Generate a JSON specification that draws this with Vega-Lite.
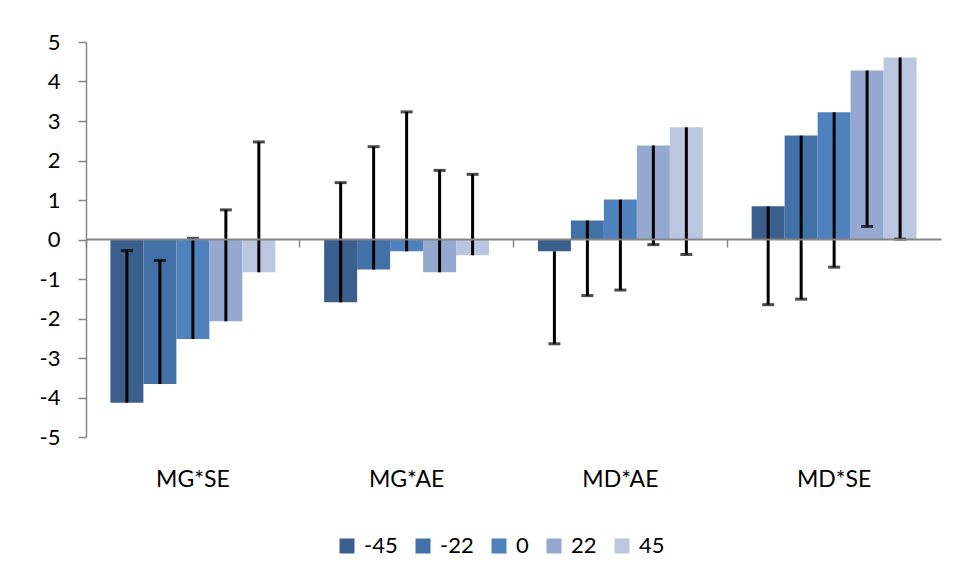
{
  "$schema": "https://vega.github.io/schema/vega-lite/v6.json",
  "width": 855,
  "height": 395,
  "autosize": {"type": "none"},
  "padding": {"left": 86, "top": 42, "right": 16, "bottom": 142},
  "background": "white",
  "config": {
    "font": "Lato",
    "view": {"stroke": null},
    "axis": {"labelFont": "Lato", "labelColor": "black", "titleFont": "Lato"},
    "legend": {"labelFont": "Lato"}
  },
  "data": {
    "values": [
      {"cat": "MG*SE", "series": "-45", "value": -4.13, "err": -0.28},
      {"cat": "MG*SE", "series": "-22", "value": -3.66, "err": -0.53},
      {"cat": "MG*SE", "series": "0", "value": -2.52, "err": 0.03},
      {"cat": "MG*SE", "series": "22", "value": -2.07, "err": 0.75},
      {"cat": "MG*SE", "series": "45", "value": -0.83, "err": 2.47},
      {"cat": "MG*AE", "series": "-45", "value": -1.59, "err": 1.44},
      {"cat": "MG*AE", "series": "-22", "value": -0.76, "err": 2.35},
      {"cat": "MG*AE", "series": "0", "value": -0.3, "err": 3.23},
      {"cat": "MG*AE", "series": "22", "value": -0.83, "err": 1.75},
      {"cat": "MG*AE", "series": "45", "value": -0.4, "err": 1.65},
      {"cat": "MD*AE", "series": "-45", "value": -0.3, "err": -2.64},
      {"cat": "MD*AE", "series": "-22", "value": 0.48, "err": -1.42},
      {"cat": "MD*AE", "series": "0", "value": 1.01, "err": -1.28},
      {"cat": "MD*AE", "series": "22", "value": 2.38, "err": -0.13},
      {"cat": "MD*AE", "series": "45", "value": 2.84, "err": -0.38},
      {"cat": "MD*SE", "series": "-45", "value": 0.84, "err": -1.65},
      {"cat": "MD*SE", "series": "-22", "value": 2.63, "err": -1.51},
      {"cat": "MD*SE", "series": "0", "value": 3.22, "err": -0.7},
      {"cat": "MD*SE", "series": "22", "value": 4.28, "err": 0.33},
      {"cat": "MD*SE", "series": "45", "value": 4.61, "err": 0.01}
    ]
  },
  "encoding": {
    "x": {
      "field": "cat",
      "type": "nominal",
      "sort": ["MG*SE", "MG*AE", "MD*AE", "MD*SE"],
      "scale": {"paddingInner": 0, "paddingOuter": 0}
    },
    "xOffset": {
      "field": "series",
      "type": "nominal",
      "sort": ["-45", "-22", "0", "22", "45"],
      "scale": {"paddingInner": 0, "paddingOuter": 0.74}
    }
  },
  "layer": [
    {
      "mark": {"type": "bar", "cornerRadius": 0},
      "encoding": {
        "x": {
          "field": "cat",
          "type": "nominal",
          "sort": ["MG*SE", "MG*AE", "MD*AE", "MD*SE"],
          "axis": {
            "title": null,
            "orient": "bottom",
            "domain": false,
            "ticks": false,
            "labelAngle": 0,
            "labelFontSize": 23,
            "labelPadding": 31
          }
        },
        "y": {
          "field": "value",
          "type": "quantitative",
          "scale": {"domain": [-5, 5], "nice": false},
          "axis": {
            "title": null,
            "values": [-5, -4, -3, -2, -1, 0, 1, 2, 3, 4, 5],
            "labelExpr": "'' + datum.value",
            "labelOverlap": false,
            "grid": false,
            "domainColor": "#868686",
            "domainWidth": 1.5,
            "tickColor": "#868686",
            "tickWidth": 1.5,
            "tickSize": 8,
            "labelFontSize": 22,
            "labelPadding": 18
          }
        },
        "color": {
          "field": "series",
          "type": "nominal",
          "sort": ["-45", "-22", "0", "22", "45"],
          "scale": {
            "domain": ["-45", "-22", "0", "22", "45"],
            "range": ["#3A5F8C", "#4271A7", "#4F81BD", "#95A9D0", "#BBC7E1"]
          },
          "legend": {
            "title": null,
            "orient": "none",
            "legendX": 250,
            "legendY": 493,
            "direction": "horizontal",
            "symbolType": "square",
            "symbolSize": 225,
            "symbolStrokeWidth": 0,
            "labelFontSize": 22,
            "labelOffset": 6,
            "columnPadding": 14
          }
        }
      }
    },
    {
      "mark": {"type": "rule", "color": "black", "strokeWidth": 3},
      "encoding": {
        "x": {
          "field": "cat",
          "type": "nominal",
          "sort": ["MG*SE", "MG*AE", "MD*AE", "MD*SE"],
          "axis": {
            "title": null,
            "orient": "bottom",
            "offset": -198,
            "labels": false,
            "domain": true,
            "domainColor": "#868686",
            "domainWidth": 2,
            "ticks": true,
            "bandPosition": 0,
            "tickColor": "#868686",
            "tickWidth": 1.5,
            "tickSize": 8,
            "zindex": 1
          }
        },
        "y": {
          "field": "value",
          "type": "quantitative",
          "axis": {
            "title": null,
            "values": [-5, -4, -3, -2, -1, 0, 1, 2, 3, 4, 5],
            "labelExpr": "'' + datum.value",
            "labelOverlap": false,
            "grid": false,
            "domainColor": "#868686",
            "domainWidth": 1.5,
            "tickColor": "#868686",
            "tickWidth": 1.5,
            "tickSize": 8,
            "labelFontSize": 22,
            "labelPadding": 18
          }
        },
        "y2": {"field": "err"}
      }
    },
    {
      "mark": {"type": "tick", "color": "black", "size": 12, "thickness": 3, "orient": "horizontal"},
      "encoding": {
        "x": {
          "field": "cat",
          "type": "nominal",
          "sort": ["MG*SE", "MG*AE", "MD*AE", "MD*SE"],
          "axis": null
        },
        "y": {
          "field": "err",
          "type": "quantitative",
          "axis": {
            "title": null,
            "values": [-5, -4, -3, -2, -1, 0, 1, 2, 3, 4, 5],
            "labelExpr": "'' + datum.value",
            "labelOverlap": false,
            "grid": false,
            "domainColor": "#868686",
            "domainWidth": 1.5,
            "tickColor": "#868686",
            "tickWidth": 1.5,
            "tickSize": 8,
            "labelFontSize": 22,
            "labelPadding": 18
          }
        }
      }
    }
  ],
  "resolve": {"axis": {"x": "independent"}}
}
